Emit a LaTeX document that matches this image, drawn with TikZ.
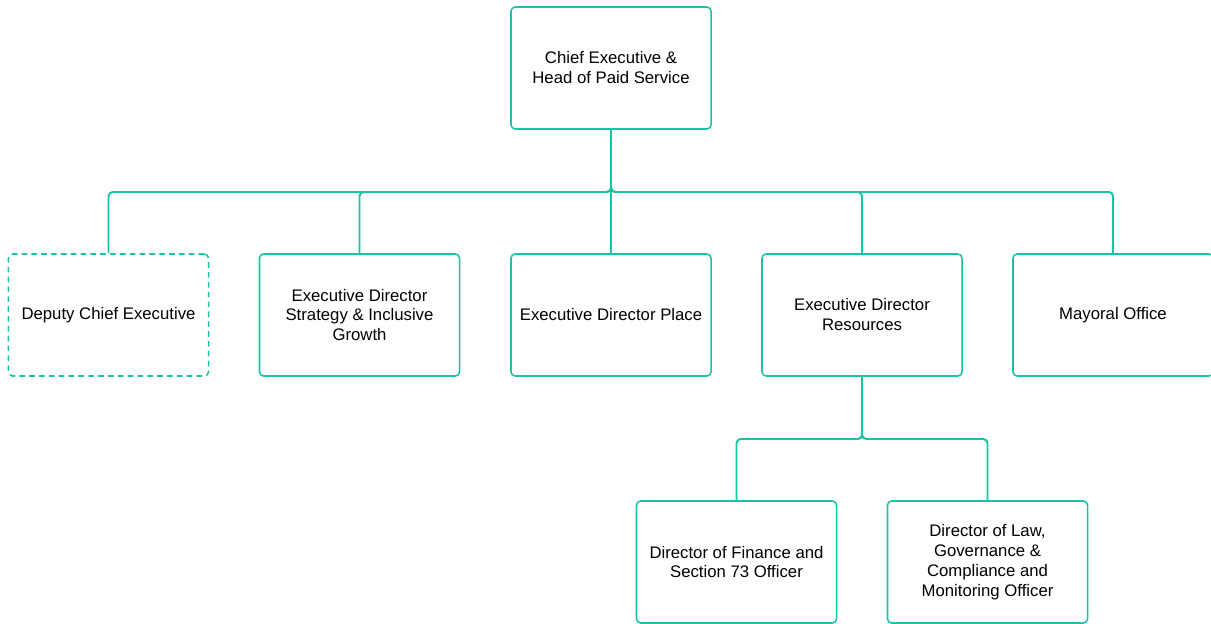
\documentclass[tikz,border=0pt]{standalone}
\usepackage{fontspec}
\setmainfont{Liberation Sans}
\usetikzlibrary{positioning}
\definecolor{teal}{RGB}{24,196,166}
\tikzset{
  post/.style={draw=teal, line width=1.1pt, rounded corners=3pt, fill=white,
    minimum width=5.0cm, minimum height=3.05cm, align=center,
    font=\fontsize{11.9}{14.2}\selectfont, inner sep=2pt},
  vacant/.style={post, dashed, dash pattern=on 4pt off 3pt},
  link/.style={draw=teal, line width=1.4pt, rounded corners=3pt}
}
\begin{document}
\begin{tikzpicture}[x=0.025cm, y=-0.025cm]
\useasboundingbox (0,0) rectangle (1211,624);

% top of the tree
\node[post] (ceo) at (611,68) {Chief Executive \&\\Head of Paid Service};

% first level
\node[vacant] (deputy) at (108.5,315) {Deputy Chief Executive};
\node[post] (strategy) at (359.5,315) {Executive Director\\Strategy \& Inclusive\\Growth};
\node[post] (place) at (611,315) {Executive Director Place};
\node[post] (resources) at (862,315) {Executive Director\\Resources};
\node[post] (mayoral) at (1113,315) {Mayoral Office};

% second level
\node[post] (finance) at (736.5,562) {Director of Finance and\\Section 73 Officer};
\node[post] (law) at (987.5,562) {Director of Law,\\Governance \&\\Compliance and\\Monitoring Officer};

\coordinate (bus) at (611,192);
\coordinate (subbus) at (862,439);

\foreach \n in {deputy,strategy,place,resources,mayoral}
  \draw[link] (ceo.south) -- (bus) -| (\n.north);
\foreach \n in {finance,law}
  \draw[link] (resources.south) -- (subbus) -| (\n.north);
\end{tikzpicture}
\end{document}
